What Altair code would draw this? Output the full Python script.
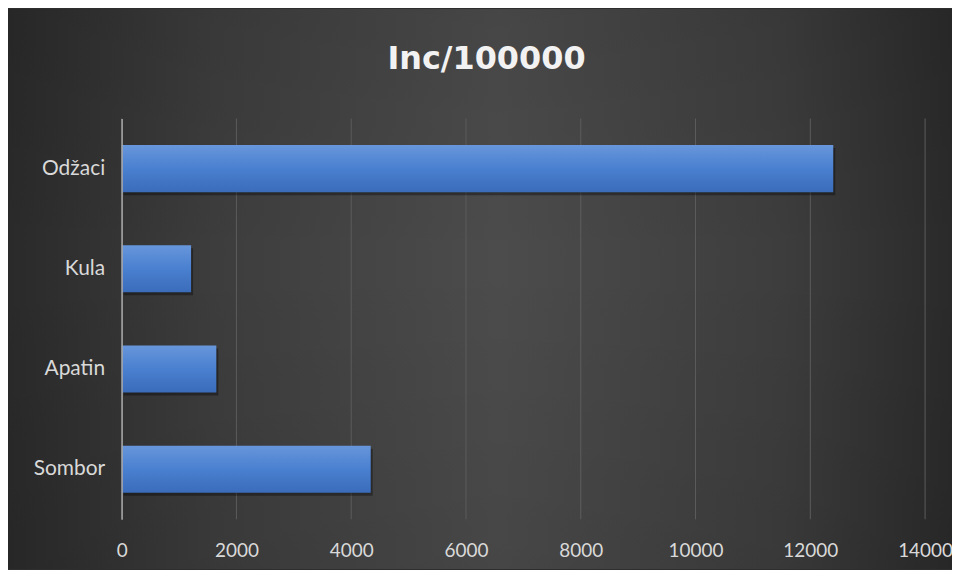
import altair as alt
import pandas as pd

# ---- data ----
categories = ["Odžaci", "Kula", "Apatin", "Sombor"]
values = [12400, 1210, 1650, 4340]
tick_values = [0, 2000, 4000, 6000, 8000, 10000, 12000, 14000]
title_text = "Inc/100000"

# ---- layout ----
W, H = 806, 402
PAD = {"left": 114, "top": 110, "right": 27, "bottom": 50}

bars_df = pd.DataFrame({"municipality": categories, "inc": values})
ticks_df = pd.DataFrame({"tick": tick_values})
bg_df = pd.DataFrame({"bg": [0]})

x_scale = alt.Scale(domain=[0, 14000], nice=False, zero=True)
x_axis = alt.Axis(
    values=tick_values, format="d", labelFont="Lato", labelFontSize=19,
    labelColor="#d9d9d9", ticks=False, domain=False, grid=False,
    labelPadding=22, labelFlush=False, zindex=1, title=None,
)
y_axis = alt.Axis(
    title=None, ticks=False, domain=True, domainColor="#a6a6a6", domainWidth=1.5,
    labelFont="Lato", labelFontSize=21, labelColor="#d9d9d9", labelPadding=17,
    zindex=1, grid=False,
)
y_enc = alt.Y("municipality:N", sort=categories,
              scale=alt.Scale(paddingInner=0.53, paddingOuter=0.265), axis=y_axis)

bg_extent = dict(
    x=alt.value(-PAD["left"]), x2=alt.value(W + PAD["right"]),
    y=alt.value(-PAD["top"]), y2=alt.value(H + PAD["bottom"]),
)

bg_h = alt.Chart(bg_df).mark_rect(
    color=alt.Gradient(
        gradient="linear", x1=0, y1=0, x2=1, y2=0,
        stops=[
            alt.GradientStop(color="#2a2a2a", offset=0),
            alt.GradientStop(color="#3d3d3d", offset=0.22),
            alt.GradientStop(color="#4c4c4c", offset=0.52),
            alt.GradientStop(color="#3d3d3d", offset=0.82),
            alt.GradientStop(color="#2a2a2a", offset=1),
        ],
    )
).encode(**bg_extent)

bg_v = alt.Chart(bg_df).mark_rect(
    color=alt.Gradient(
        gradient="linear", x1=0, y1=0, x2=0, y2=1,
        stops=[
            alt.GradientStop(color="rgba(0,0,0,0.08)", offset=0),
            alt.GradientStop(color="rgba(0,0,0,0.0)", offset=0.45),
            alt.GradientStop(color="rgba(0,0,0,0.08)", offset=1),
        ],
    )
).encode(**bg_extent)

grid = alt.Chart(ticks_df).mark_rule(color="#5c5c5c", strokeWidth=1).encode(
    x=alt.X("tick:Q", scale=x_scale, axis=x_axis, title=None)
)

shadow = alt.Chart(bars_df).mark_bar(
    color="#000000", opacity=0.35, xOffset=2, yOffset=3
).encode(
    x=alt.X("inc:Q", scale=x_scale, axis=x_axis, title=None),
    y=y_enc,
)

bars = alt.Chart(bars_df).mark_bar(
    color=alt.Gradient(
        gradient="linear", x1=0, y1=0, x2=0, y2=1,
        stops=[
            alt.GradientStop(color="#6796db", offset=0),
            alt.GradientStop(color="#4a80d0", offset=0.5),
            alt.GradientStop(color="#3a6cba", offset=1),
        ],
    )
).encode(
    x=alt.X("inc:Q", scale=x_scale, axis=x_axis, title=None),
    y=y_enc,
)

chart = alt.layer(bg_h, bg_v, grid, shadow, bars).properties(
    width=W,
    height=H,
    title=alt.TitleParams(
        title_text, font="DejaVu Sans", fontSize=32, fontWeight="bold",
        color="#f2f2f2", anchor="middle", offset=-92, baseline="alphabetic", dx=-37,
    ),
    autosize=alt.AutoSizeParams(type="none"),
    padding=PAD,
).configure(background="#2e2e2e").configure_view(stroke=None)

chart.save("out.html", embed_options={"renderer": "svg", "actions": False})
